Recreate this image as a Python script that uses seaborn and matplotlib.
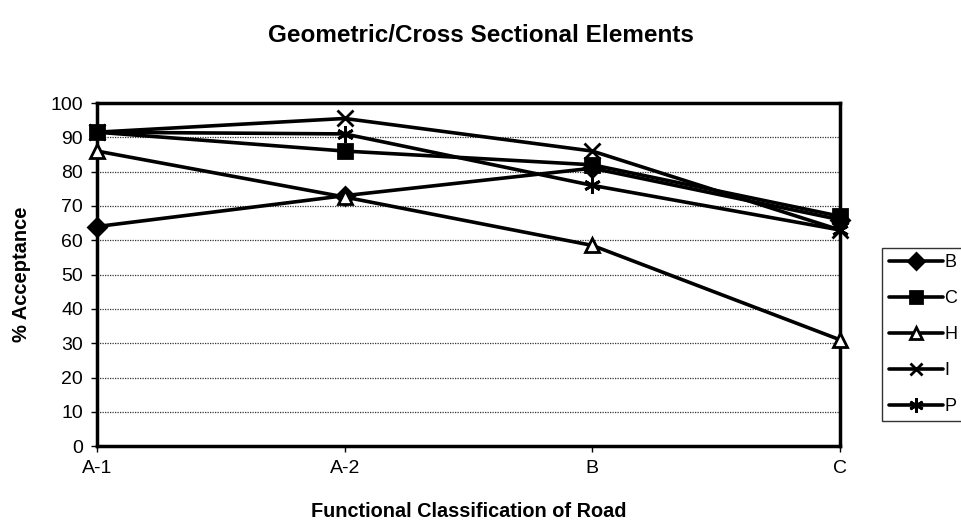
import matplotlib
matplotlib.use("Agg")
import matplotlib.pyplot as plt
import seaborn as sns
import pandas as pd

categories = ["A-1", "A-2", "B", "C"]
series_names = ["B", "C", "H", "I", "P"]
vals_B = [64, 73, 81, 66]
vals_C = [91.5, 86, 82, 67]
vals_H = [86, 72.6, 58.5, 31]
vals_I = [91.5, 95.5, 86, 63]
vals_P = [91.5, 91, 76, 63]
yticks = list(range(0, 101, 10))

series_vals = [vals_B, vals_C, vals_H, vals_I, vals_P]
markers = {"B": "D", "C": "s", "H": "^", "I": "x", "P": (6, 2, 0)}
facecolors = {"B": "black", "C": "black", "H": "white", "I": "black", "P": "black"}
msizes = {"B": 9, "C": 10.5, "H": 10, "I": 11, "P": 12}

sns.set_theme(style="white")
plt.rcParams["font.family"] = ["Liberation Sans", "DejaVu Sans"]
plt.rcParams["text.color"] = "black"
plt.rcParams["axes.labelcolor"] = "black"
plt.rcParams["xtick.color"] = "black"
plt.rcParams["ytick.color"] = "black"

fig = plt.figure(figsize=(9.61, 5.23), dpi=100)
ax = fig.add_axes([0.101, 0.147, 0.773, 0.656])

for name, vals in zip(series_names, series_vals):
    df = pd.DataFrame({"x": categories, "y": vals})
    sns.lineplot(data=df, x="x", y="y", ax=ax, color="black", linewidth=2.6,
                 marker=markers[name], markersize=msizes[name],
                 markerfacecolor=facecolors[name], markeredgecolor="black",
                 markeredgewidth=2.0, label=name, sort=False, clip_on=False,
                 zorder=3)

ax.set_xlim(0, len(categories) - 1)
ax.set_ylim(0, 100)
ax.set_yticks(yticks)
ax.set_yticklabels([str(t) for t in yticks], fontsize=14)
ax.set_xticks(range(len(categories)))
ax.set_xticklabels(categories, fontsize=14)
ax.tick_params(axis="x", pad=6, length=4, width=1, direction="out", bottom=True)
ax.tick_params(axis="y", pad=6, length=4, width=1, direction="out", left=True)
for t in yticks[1:-1]:
    ax.axhline(t, color="#333333", linewidth=0.9, linestyle=(0, (1, 1)), zorder=0)
for s in ax.spines.values():
    s.set_color("black")
    s.set_linewidth(2.5)
    s.set_visible(True)

ax.set_xlabel("Functional Classification of Road", fontsize=14.3, fontweight="bold", labelpad=18)
ax.set_ylabel("% Acceptance", fontsize=14.5, fontweight="bold", labelpad=14)
fig.suptitle("Geometric/Cross Sectional Elements", fontsize=17.5, fontweight="bold", y=0.955)

leg = ax.legend(loc="upper left", bbox_to_anchor=(0.918, 0.526), bbox_transform=fig.transFigure,
                frameon=True, fancybox=False, fontsize=13, handlelength=3.0, markerscale=0.85,
                handletextpad=0.1, borderpad=0.35, labelspacing=1.05, borderaxespad=0)
leg.get_frame().set_edgecolor("black")
leg.get_frame().set_linewidth(1.0)

fig.savefig("out.png", dpi=100)
